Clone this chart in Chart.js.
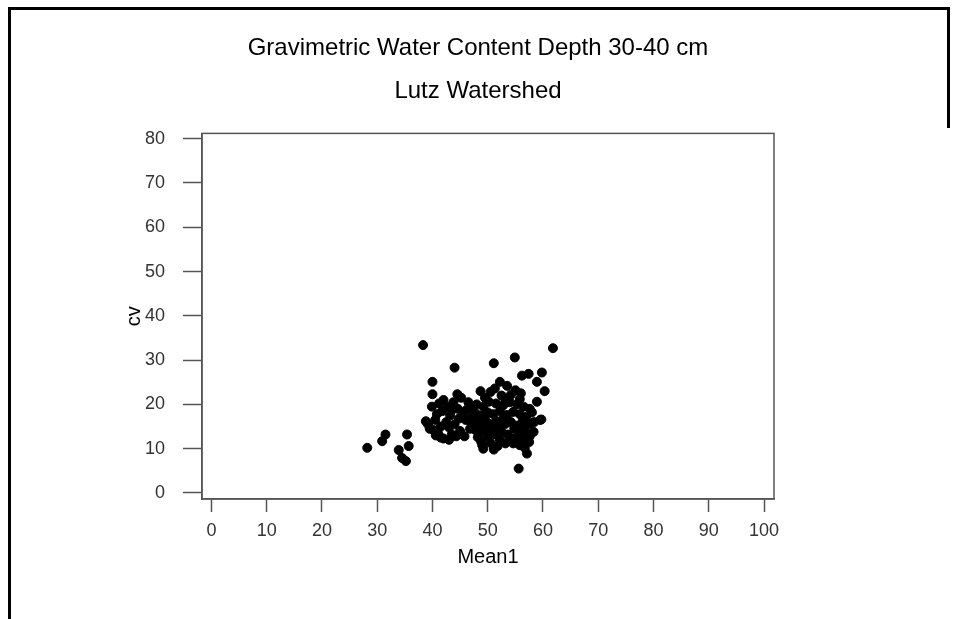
<!DOCTYPE html>
<html>
<head>
<meta charset="utf-8">
<title>Gravimetric Water Content Depth 30-40 cm</title>
<script src="https://cdn.jsdelivr.net/npm/chart.js@4/dist/chart.umd.min.js"></script>
<style>
  html, body { margin: 0; padding: 0; background: #fff; }
  #wrap { width: 956px; height: 619px; }
</style>
</head>
<body>
<div id="wrap"><canvas id="scatter"></canvas></div>
<script>
// Mean1 / cv pairs
const meanValues = [
  38.3, 61.8, 54.9, 51.1, 44.0, 56.2, 57.4, 59.8, 40.0, 58.9, 52.2, 51.3, 60.3, 48.7, 40.0, 44.5, 58.9, 59.7,
  28.2, 31.5, 30.9, 35.4, 35.7, 33.9, 34.5, 35.2, 55.6, 57.1, 49.0, 49.2, 51.1, 54.6, 58.3, 59.5,
  39.9, 40.5, 39.2, 40.2, 41.0, 42.0, 43.0, 43.5, 44.3, 45.0, 41.5, 42.5, 43.2, 41.8, 42.8, 43.8, 44.6, 45.5,
  46.0, 44.0, 40.8, 42.0, 45.2, 46.5, 46.8, 45.8, 39.5, 41.2, 43.0, 44.8, 46.2, 47.0, 47.5, 38.8, 41.5, 43.6, 40.6,
  53.5, 55.0, 54.2, 49.5, 52.5, 56.0, 50.5,
  48.0, 49.2, 50.2, 51.5, 52.8, 54.0, 55.3, 56.5, 57.6, 53.2, 47.2, 55.8,
  47.8, 48.8, 50.0, 51.0, 52.2, 53.5, 54.6, 55.8, 57.0, 58.0, 49.5, 52.8, 56.3,
  47.0, 48.2, 49.0, 50.4, 51.6, 52.0, 53.2, 54.2, 55.2, 56.5, 57.5, 58.4, 50.8, 54.8, 47.8,
  48.5, 49.6, 51.2, 52.5, 53.6, 55.6, 56.8, 57.6, 50.0, 54.2, 55.0, 52.2, 56.2, 48.2,
  50.5, 51.8, 53.2, 55.8, 57.5, 48.8, 56.7
];
const cvValues = [
  33.4, 32.7, 30.6, 29.3, 28.3, 26.5, 26.9, 27.2, 25.1, 25.1, 25.1, 23.6, 23.0, 23.0, 22.3, 22.3, 20.6, 16.6,
  10.2, 13.2, 11.7, 13.2, 10.6, 9.7, 7.9, 7.2, 5.5, 8.9, 10.8, 10.0, 9.8, 11.2, 13.8, 16.5,
  19.5, 16.5, 15.5, 14.2, 13.5, 12.3, 12.0, 13.2, 12.8, 14.0, 15.0, 16.0, 17.5, 18.5, 19.5, 20.5, 19.0, 18.0,
  16.5, 15.5, 17.8, 21.0, 21.5, 20.5, 14.5, 12.8, 14.5, 20.2, 14.8, 16.8, 18.8, 17.0, 15.2, 16.2, 12.5, 18.8, 13.0,
  24.2, 23.2, 22.2, 21.5, 22.0, 22.5, 22.8,
  20.0, 19.5, 20.6, 20.2, 19.8, 20.5, 20.0, 19.5, 19.0, 21.2, 19.0, 21.2,
  18.0, 17.5, 18.2, 17.8, 18.5, 17.6, 18.3, 17.8, 17.2, 18.2, 16.8, 16.8, 16.2,
  15.8, 16.0, 15.2, 15.6, 16.2, 15.0, 15.6, 16.0, 15.2, 15.0, 15.5, 16.0, 14.6, 14.5, 14.2,
  13.5, 14.0, 13.2, 13.8, 13.2, 13.5, 13.8, 12.8, 12.8, 12.4, 12.0, 12.0, 12.2, 12.6,
  11.3, 10.6, 11.2, 10.8, 11.5, 11.6, 10.2
];
const xTicks = [0, 10, 20, 30, 40, 50, 60, 70, 80, 90, 100];
const yTicks = [0, 10, 20, 30, 40, 50, 60, 70, 80];

const points = meanValues.map((m, i) => ({ x: m, y: cvValues[i] }));

const FONT = "'Liberation Sans', Arial, sans-serif";
const AXIS = "#555";

// box round the plot area and the page frame
const framePlugin = {
  id: "frame",
  afterDraw(chart) {
    const { ctx, chartArea: a } = chart;
    ctx.save();
    ctx.strokeStyle = AXIS;
    ctx.lineWidth = 1.5;
    ctx.strokeRect(a.left, a.top, a.right - a.left, a.bottom - a.top);
    ctx.strokeStyle = "#000";
    ctx.lineWidth = 3;
    ctx.beginPath();
    ctx.moveTo(9.5, 619);
    ctx.lineTo(9.5, 8.5);
    ctx.lineTo(948.5, 8.5);
    ctx.lineTo(948.5, 128);
    ctx.stroke();
    ctx.restore();
  }
};

new Chart(document.getElementById("scatter"), {
  type: "scatter",
  data: {
    datasets: [{
      label: "cv",
      data: points,
      pointRadius: 4.5,
      pointBorderWidth: 1,
      backgroundColor: "#000",
      borderColor: "#000"
    }]
  },
  options: {
    responsive: true,
    maintainAspectRatio: false,
    animation: false,
    layout: { padding: 0 },
    plugins: {
      legend: { display: false },
      tooltip: { enabled: false },
      title: {
        display: true,
        text: ["Gravimetric Water Content Depth 30-40 cm", "Lutz Watershed"],
        color: "#000",
        font: { family: FONT, size: 24, weight: "normal", lineHeight: 1.8 },
        padding: { top: 27, bottom: 20 }
      }
    },
    scales: {
      x: {
        type: "linear",
        min: -1.7,
        max: 101.8,
        afterBuildTicks: s => { s.ticks = xTicks.map(v => ({ value: v })); },
        afterFit: s => { s.height = 120; },
        grid: { drawOnChartArea: false, drawTicks: true, tickLength: 13, tickColor: AXIS, tickWidth: 1.5 },
        border: { display: true, color: AXIS, width: 1.5 },
        ticks: { color: "#333", padding: 8, maxRotation: 0, font: { family: FONT, size: 18 } },
        title: { display: true, text: "Mean1", color: "#000", font: { family: FONT, size: 20 }, padding: { top: 0, bottom: 50 } }
      },
      y: {
        type: "linear",
        min: -1.36,
        max: 81.2,
        afterBuildTicks: s => { s.ticks = yTicks.map(v => ({ value: v })); },
        afterFit: s => { s.width = 202; },
        grid: { drawOnChartArea: false, drawTicks: true, tickLength: 19, tickColor: AXIS, tickWidth: 1.5 },
        border: { display: true, color: AXIS, width: 1.5 },
        ticks: { color: "#333", padding: 18, font: { family: FONT, size: 18 } },
        title: { display: true, text: "cv", color: "#000", font: { family: FONT, size: 20 }, padding: { top: 122, bottom: 0 } }
      },
      y2: {
        type: "linear",
        position: "right",
        display: true,
        grid: { display: false },
        border: { display: false },
        ticks: { display: false },
        afterFit: s => { s.width = 182; }
      }
    }
  },
  plugins: [framePlugin]
});
</script>
</body>
</html>
